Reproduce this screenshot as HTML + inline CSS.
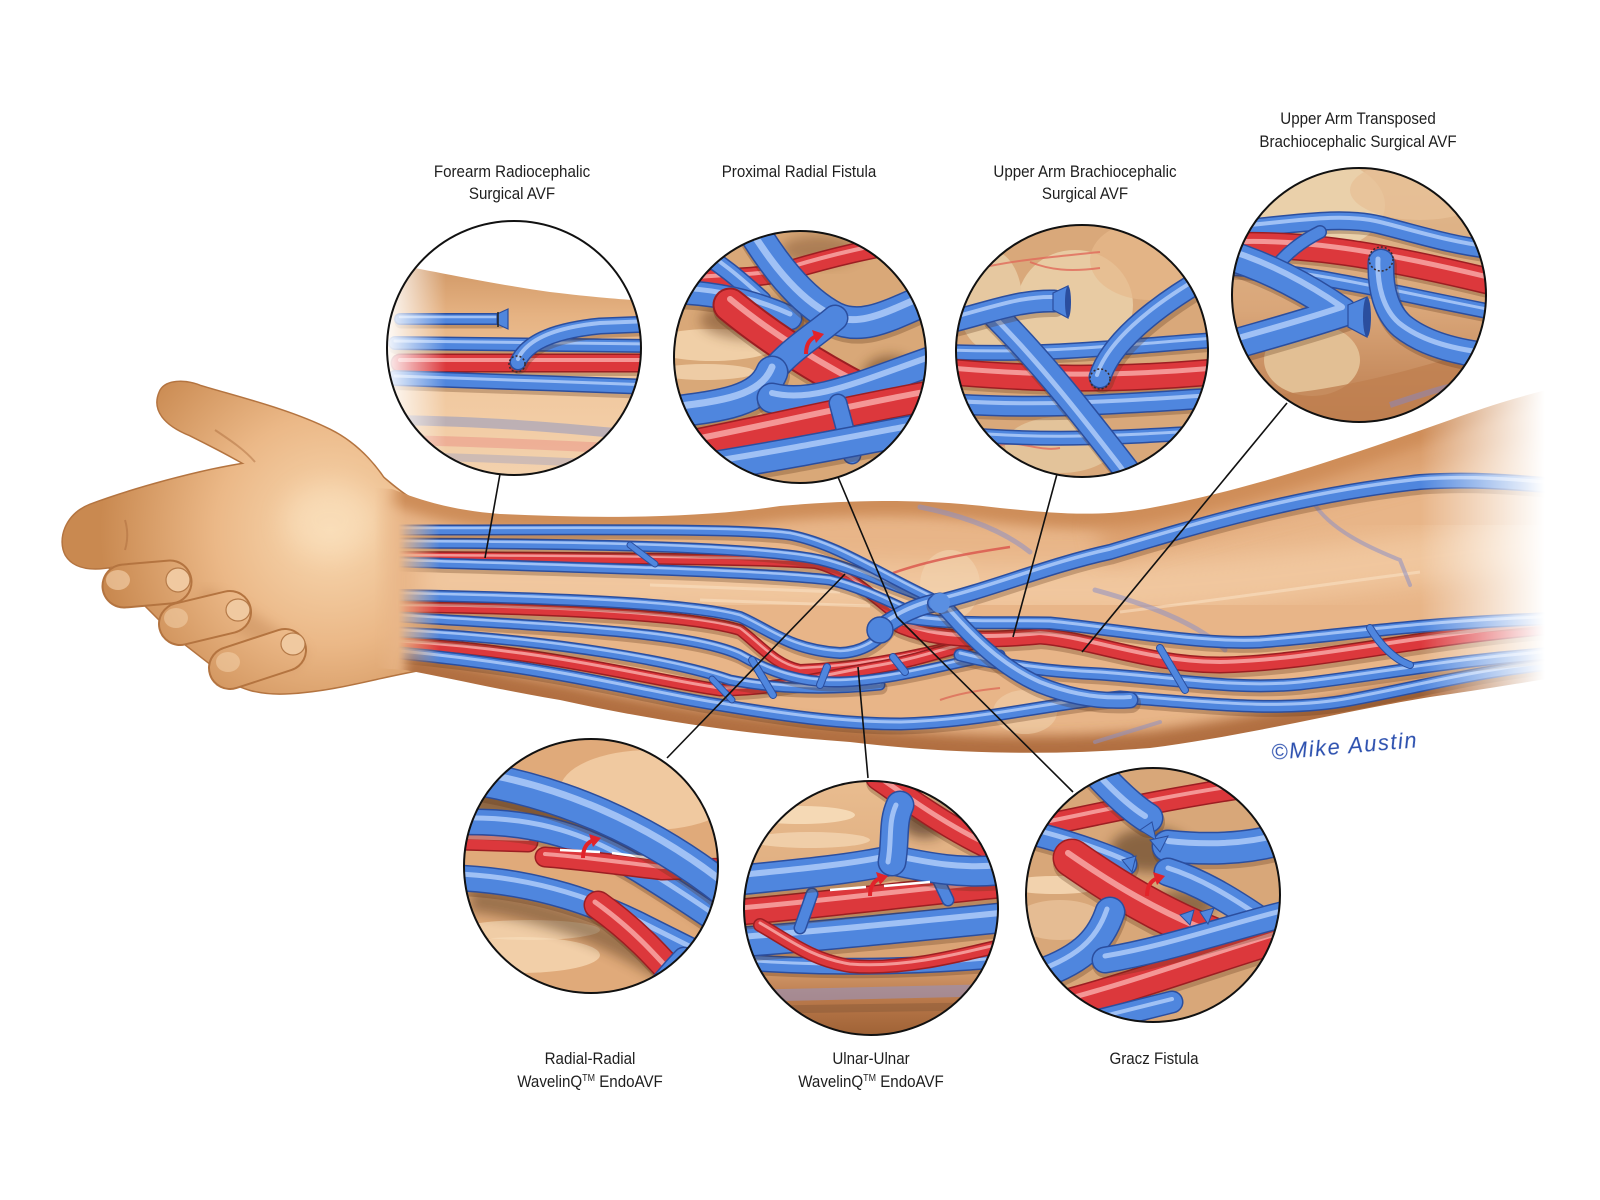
<!DOCTYPE html>
<html><head><meta charset="utf-8">
<style>
html,body{margin:0;padding:0;background:#fff;}
svg{display:block}
.s{fill:none;stroke:#5a3215;stroke-opacity:.28;stroke-linecap:round;stroke-linejoin:round}
.bo{fill:none;stroke:#2b4e9e;stroke-linecap:round;stroke-linejoin:round}
.bm{fill:none;stroke:#4f86de;stroke-linecap:round;stroke-linejoin:round}
.bh{fill:none;stroke:#a9c8f7;stroke-linecap:round;stroke-linejoin:round;stroke-opacity:.9}
.ro{fill:none;stroke:#9c1e22;stroke-linecap:round;stroke-linejoin:round}
.rm{fill:none;stroke:#dc383c;stroke-linecap:round;stroke-linejoin:round}
.rh{fill:none;stroke:#f6a2a0;stroke-linecap:round;stroke-linejoin:round;stroke-opacity:.9}
.fa{fill:none;stroke:#8c8fc4;stroke-linecap:round;stroke-opacity:.55}
.lbl{font-family:"Liberation Sans",Arial,sans-serif;font-size:17px;fill:#1e1e1e}
.ring{fill:none;stroke:#111;stroke-width:2}
.ld{fill:none;stroke:#111;stroke-width:1.6}
</style></head>
<body>
<svg width="1600" height="1200" viewBox="0 0 1600 1200" xmlns="http://www.w3.org/2000/svg">
<defs>
  <filter id="bl" x="-30%" y="-30%" width="160%" height="160%"><feGaussianBlur stdDeviation="6"/></filter>
  <filter id="bl2" x="-30%" y="-30%" width="160%" height="160%"><feGaussianBlur stdDeviation="12"/></filter>
  <radialGradient id="hg" gradientUnits="userSpaceOnUse" cx="330" cy="530" r="230">
    <stop offset="0" stop-color="#f8d9b2"/>
    <stop offset="0.5" stop-color="#ebb887"/>
    <stop offset="1" stop-color="#c98950"/>
  </radialGradient>
  <linearGradient id="armfade" gradientUnits="userSpaceOnUse" x1="375" y1="0" x2="1560" y2="0">
    <stop offset="0" stop-color="#000"/>
    <stop offset="0.0253" stop-color="#fff"/>
    <stop offset="0.8819" stop-color="#fff"/>
    <stop offset="0.9873" stop-color="#000"/>
  </linearGradient>
  <linearGradient id="vfadeg" gradientUnits="userSpaceOnUse" x1="398" y1="0" x2="1560" y2="0">
    <stop offset="0" stop-color="#000"/>
    <stop offset="0.036" stop-color="#fff"/>
    <stop offset="1" stop-color="#fff"/>
  </linearGradient>
  <mask id="armmask" maskUnits="userSpaceOnUse" x="0" y="0" width="1600" height="1200">
    <rect x="0" y="0" width="1600" height="1200" fill="url(#armfade)"/>
  </mask>
  <mask id="vmask" maskUnits="userSpaceOnUse" x="0" y="0" width="1600" height="1200">
    <rect x="0" y="0" width="1600" height="1200" fill="url(#vfadeg)"/>
  </mask>
  <clipPath id="armclip"><path d="M375,488 L392,489 C 420,500 450,510 500,514 C 600,519 700,518 780,506 C 850,500 920,498 1000,508 C 1060,514 1100,517 1150,508 C 1250,490 1350,455 1450,420 C 1500,402 1540,390 1600,378 L1600,670 C 1540,680 1480,690 1430,697 C 1350,710 1250,735 1150,748 C 1050,756 950,754 850,742 C 750,735 650,720 560,700 C 500,690 450,678 405,670 L375,668 Z"/></clipPath>
  <linearGradient id="sk1" x1="0" y1="0" x2="0" y2="1">
    <stop offset="0" stop-color="#cf9664"/><stop offset="0.25" stop-color="#e6b383"/>
    <stop offset="0.6" stop-color="#f1c9a0"/><stop offset="1" stop-color="#f3d2ae"/>
  </linearGradient>
  <linearGradient id="wf" x1="0" y1="0" x2="1" y2="0">
    <stop offset="0" stop-color="#fff" stop-opacity=".95"/><stop offset="1" stop-color="#fff" stop-opacity="0"/>
  </linearGradient>
  <linearGradient id="sk6" x1="0" y1="0" x2="0" y2="1">
    <stop offset="0" stop-color="#e9bd90"/><stop offset="0.7" stop-color="#d9a273"/>
    <stop offset="0.85" stop-color="#b8784a"/><stop offset="1" stop-color="#9c5f33"/>
  </linearGradient>
  <linearGradient id="sk4" x1="0" y1="0" x2="0" y2="1">
    <stop offset="0" stop-color="#e2bb90"/><stop offset="0.55" stop-color="#d9a679"/>
    <stop offset="1" stop-color="#b9784a"/>
  </linearGradient>
  <clipPath id="k1"><circle cx="514" cy="348" r="127"/></clipPath>
  <clipPath id="k2"><circle cx="800" cy="357" r="126"/></clipPath>
  <clipPath id="k3"><circle cx="1082" cy="351" r="126"/></clipPath>
  <clipPath id="k4"><circle cx="1359" cy="295" r="127"/></clipPath>
  <clipPath id="k5"><circle cx="591" cy="866" r="127"/></clipPath>
  <clipPath id="k6"><circle cx="871" cy="908" r="127"/></clipPath>
  <clipPath id="k7"><circle cx="1153" cy="895" r="127"/></clipPath>

  <!-- arm vessels -->
  <path id="av1" d="M400,530 C 600,530 740,528 790,535 C 840,545 880,575 940,602"/>
  <path id="av2" d="M400,543 C 600,544 760,547 820,560 C 860,570 900,590 940,602"/>
  <path id="aa1" d="M400,557 C 600,558 770,559 815,563 C 850,570 880,605 920,632"/>
  <path id="aa0" d="M900,625 C 940,643 1000,640 1040,636 C 1090,640 1150,665 1220,665 C 1320,663 1420,635 1570,625"/>
  <path id="av3" d="M400,562 C 600,568 760,572 830,580 C 870,590 900,608 930,620"/>
  <path id="av4" d="M400,595 C 550,598 690,603 740,617 C 770,630 790,650 840,653 C 865,652 880,640 890,625"/>
  <path id="aa2" d="M400,607 C 550,608 690,615 740,630 C 760,645 775,665 800,670 C 850,668 900,660 960,645"/>
  <path id="av5" d="M400,617 C 560,627 690,632 740,655 C 770,672 800,683 840,682 C 900,680 960,660 1000,655"/>
  <path id="aa3" d="M400,643 C 550,652 650,680 720,690 C 780,690 830,675 880,667 C 920,660 950,648 980,642"/>
  <path id="av6" d="M400,632 C 560,640 680,663 730,680 C 780,690 830,690 880,685"/>
  <path id="av7" d="M400,653 C 560,668 650,695 720,705 C 780,715 840,724 900,724 C 980,722 1040,705 1120,697 C 1200,703 1280,713 1350,700 C 1430,685 1480,670 1570,662"/>
  <path id="amed" d="M878,630 C 898,615 920,605 940,602"/>
  <path id="ac" d="M935,603 C 990,590 1050,565 1110,552 C 1200,525 1300,495 1420,482 C 1480,478 1530,484 1570,487"/>
  <path id="ad" d="M940,602 C 965,630 995,665 1040,685 C 1070,697 1100,702 1130,700"/>
  <path id="u1" d="M905,617 C 950,625 1000,622 1050,623 C 1120,630 1200,645 1260,642 C 1350,635 1420,622 1570,618"/>
  <path id="u2" d="M960,655 C 1000,665 1050,672 1100,674 C 1180,680 1240,690 1300,684 C 1380,675 1450,660 1570,652"/>
  <path id="cn1" d="M630,545 L655,564"/>
  <path id="cn2" d="M712,679 L732,700"/>
  <path id="cn3" d="M752,660 L773,695"/>
  <path id="cn4" d="M827,667 L820,685"/>
  <path id="cn5" d="M893,657 L905,672"/>
  <path id="cn6" d="M1160,648 L1185,690"/>
  <path id="cn7" d="M1370,628 C 1380,645 1395,660 1410,665"/>

  <!-- circle 1 -->
  <path id="c1a" d="M400,319 L499,319"/>
  <path id="c1b" d="M395,343 L650,346"/>
  <path id="c1c" d="M400,363 L650,363"/>
  <path id="c1d" d="M395,378 C 500,381 560,384 650,387"/>
  <path id="c1e" d="M518,362 C 528,340 560,330 600,326 L650,324"/>
  <!-- circle 2 -->
  <path id="c2r1" d="M680,282 C 720,276 760,280 790,270 C 830,258 870,248 935,238"/>
  <path id="c2r2" d="M730,305 C 770,338 820,370 880,400"/>
  <path id="c2r3" d="M675,448 C 760,432 840,412 935,395"/>
  <path id="c2b1" d="M748,222 C 772,262 800,300 835,318 C 865,332 895,312 935,296"/>
  <path id="c2b2" d="M668,292 C 710,292 750,300 790,318"/>
  <path id="c2b3" d="M690,246 C 720,262 742,282 762,300"/>
  <path id="c2b4" d="M665,413 C 720,406 760,402 772,372"/>
  <path id="c2b5" d="M772,372 C 790,350 815,335 835,318"/>
  <path id="c2b6" d="M772,398 C 812,408 855,388 935,360"/>
  <path id="c2b7" d="M690,470 C 780,456 850,442 935,426"/>
  <path id="c2b8" d="M838,403 L852,455"/>
  <!-- circle 3 -->
  <path id="c3r" d="M950,372 C 1020,378 1100,382 1215,372"/>
  <path id="c3b1" d="M950,352 C 1050,356 1130,346 1215,340"/>
  <path id="c3b2" d="M955,404 C 1050,410 1130,403 1215,398"/>
  <path id="c3b3" d="M960,434 C 1050,442 1130,437 1215,432"/>
  <path id="c3b4" d="M995,315 C 1040,360 1080,410 1130,475"/>
  <path id="c3b5" d="M950,322 C 990,312 1020,300 1054,301"/>
  <path id="c3b7" d="M1100,377 C 1110,345 1150,310 1205,278"/>
  <!-- circle 4 -->
  <path id="c4b1" d="M1228,230 C 1290,225 1340,215 1380,225 C 1420,235 1450,245 1492,250"/>
  <path id="c4r" d="M1228,246 C 1300,242 1380,255 1492,282"/>
  <path id="c4b2" d="M1228,268 C 1300,270 1380,290 1492,312"/>
  <path id="c4b3" d="M1320,232 C 1300,242 1285,255 1275,268"/>
  <path id="c4b4" d="M1228,255 C 1270,268 1310,290 1342,312 C 1300,326 1262,336 1228,346"/>
  <path id="c4b5" d="M1381,262 C 1380,288 1386,312 1402,326 C 1422,342 1452,352 1492,356"/>
  <!-- circle 5 -->
  <path id="c5b1" d="M462,776 C 560,790 650,830 728,892"/>
  <path id="c5b2" d="M460,822 C 540,820 590,840 640,870 C 680,895 710,915 728,928"/>
  <path id="c5r1" d="M460,840 L528,842"/>
  <path id="c5r2" d="M545,857 C 585,860 625,866 662,870 L728,868"/>
  <path id="c5b3" d="M460,878 C 540,882 600,905 645,928 L705,958"/>
  <path id="c5r3" d="M598,905 C 640,935 662,962 692,995"/>
  <path id="c5b4" d="M648,1000 C 660,985 672,970 684,958"/>
  <!-- circle 6 -->
  <path id="c6r1" d="M878,778 C 910,800 950,830 1000,852"/>
  <path id="c6b1" d="M740,880 C 800,874 860,868 892,860 C 930,868 962,874 1000,870"/>
  <path id="c6b2" d="M892,862 C 896,840 892,822 900,805"/>
  <path id="c6r2" d="M740,912 C 820,905 900,895 1000,885"/>
  <path id="c6b3" d="M740,942 C 820,936 900,928 1000,918"/>
  <path id="c6r3" d="M760,925 C 790,942 812,960 850,966 C 900,970 950,958 1000,946"/>
  <path id="c6b4" d="M740,962 C 820,968 900,968 1000,960"/>
  <path id="c6c1" d="M812,894 L800,928"/>
  <path id="c6c2" d="M935,873 L948,900"/>
  <!-- circle 7 -->
  <path id="c7r1" d="M1040,826 C 1100,814 1160,800 1240,788"/>
  <path id="c7b1" d="M1095,770 C 1115,792 1132,808 1148,818"/>
  <path id="c7b2" d="M1028,832 C 1068,842 1098,852 1125,864"/>
  <path id="c7r2" d="M1072,858 C 1118,890 1160,915 1212,936"/>
  <path id="c7b3" d="M1168,846 C 1205,850 1245,850 1285,838"/>
  <path id="c7b4" d="M1168,872 C 1200,882 1230,900 1262,922"/>
  <path id="c7b5" d="M1028,978 C 1080,962 1100,942 1110,912"/>
  <path id="c7b6" d="M1105,960 C 1165,950 1222,930 1285,914"/>
  <path id="c7r3" d="M1052,1008 C 1130,988 1200,962 1285,936"/>
  <path id="c7b7" d="M1080,1025 L1172,1002"/>
</defs>

<rect x="0" y="0" width="1600" height="1200" fill="#fff"/>

<!-- ================= HAND ================= -->
<g id="hand">
  <g fill="none" stroke="#b47440" stroke-width="3">
    <path d="M160,392 C 165,380 185,380 200,386 C 240,398 290,410 330,430 C 360,445 380,470 392,492 L300,500 C 260,470 220,450 190,435 C 165,425 152,410 160,392 Z"/>
    <path d="M250,463 C 200,470 130,490 90,505 C 65,515 58,540 66,555 C 75,570 95,570 115,566 C 150,560 200,545 240,540 Z"/>
    <path d="M240,470 C 300,445 350,450 380,475 C 400,492 412,502 430,506 L430,668 C 380,676 340,690 290,693 C 260,695 235,688 225,675 L180,640 L140,600 L110,568 C 160,540 200,500 240,470 Z"/>
  </g>
  <g fill="url(#hg)">
    <path d="M250,463 C 200,470 130,490 90,505 C 65,515 58,540 66,555 C 75,570 95,570 115,566 C 150,560 200,545 240,540 Z"/>
    <path d="M240,470 C 300,445 350,450 380,475 C 400,492 412,502 430,506 L430,668 C 380,676 340,690 290,693 C 260,695 235,688 225,675 L180,640 L140,600 L110,568 C 160,540 200,500 240,470 Z"/>
    <path d="M160,392 C 165,380 185,380 200,386 C 240,398 290,410 330,430 C 360,445 380,470 392,492 L300,500 C 260,470 220,450 190,435 C 165,425 152,410 160,392 Z"/>
  </g>
  <!-- shadow on palm behind curled fingertips -->
  <path d="M200,600 C 230,610 260,630 300,660" fill="none" stroke="#b87a48" stroke-width="24" opacity=".35" filter="url(#bl)"/>
  <!-- curled fingers (knuckle at left, nail at right tip) -->
  <line x1="124" y1="586" x2="170" y2="582" stroke="#b47440" stroke-width="45" stroke-linecap="round"/>
  <line x1="124" y1="586" x2="170" y2="582" stroke="url(#hg)" stroke-width="41" stroke-linecap="round"/>
  <line x1="180" y1="624" x2="230" y2="612" stroke="#b47440" stroke-width="44" stroke-linecap="round"/>
  <line x1="180" y1="624" x2="230" y2="612" stroke="url(#hg)" stroke-width="40" stroke-linecap="round"/>
  <line x1="230" y1="668" x2="285" y2="650" stroke="#b47440" stroke-width="44" stroke-linecap="round"/>
  <line x1="230" y1="668" x2="285" y2="650" stroke="url(#hg)" stroke-width="40" stroke-linecap="round"/>
  <g fill="none" stroke="#a8683a" stroke-opacity=".45" stroke-width="2">
    <path d="M125,520 C 128,530 128,540 125,550"/>
    <path d="M215,430 C 230,440 245,450 255,462"/>
  </g>
  <g fill="#f0c9a0" stroke="#b57a48" stroke-width="1.2">
    <ellipse cx="178" cy="580" rx="12" ry="12"/>
    <ellipse cx="238" cy="610" rx="12" ry="11"/>
    <ellipse cx="293" cy="644" rx="12" ry="11"/>
  </g>
  <ellipse cx="118" cy="580" rx="12" ry="10" fill="#f6d6b0" opacity=".6"/>
  <ellipse cx="176" cy="618" rx="12" ry="10" fill="#f6d6b0" opacity=".5"/>
  <ellipse cx="228" cy="662" rx="12" ry="10" fill="#f6d6b0" opacity=".5"/>
  <ellipse cx="330" cy="520" rx="45" ry="35" fill="#fbe2c0" opacity=".5" filter="url(#bl2)"/>
</g>

<!-- ================= ARM ================= -->
<g mask="url(#armmask)">
  <g clip-path="url(#armclip)">
    <rect x="370" y="370" width="1235" height="400" fill="#e8b588"/>
    <path d="M420,580 C 700,585 900,590 1100,590 C 1250,585 1400,560 1560,540" fill="none" stroke="#f6d3ad" stroke-width="50" opacity=".6" filter="url(#bl2)"/>
    <path d="M392,489 C 420,500 450,510 500,514 C 600,519 700,518 780,506 C 850,500 920,498 1000,508 C 1060,514 1100,517 1150,508 C 1250,490 1350,455 1450,420 C 1500,402 1540,390 1600,378" fill="none" stroke="#c7834e" stroke-width="30" opacity=".8" filter="url(#bl)"/>
    <path d="M1100,540 C 1200,510 1320,478 1450,445 C 1500,432 1540,425 1600,415" fill="none" stroke="#d08d58" stroke-width="40" opacity=".55" filter="url(#bl2)"/>
    <path d="M405,670 C 450,678 500,690 560,700 C 650,720 750,735 850,742 C 950,754 1050,756 1150,748 C 1250,735 1350,710 1430,697 C 1480,690 1540,680 1600,670" fill="none" stroke="#a86434" stroke-width="34" opacity=".85" filter="url(#bl)"/>
    <g fill="none" stroke="#fbe5c9" stroke-width="3" opacity=".5">
      <path d="M650,585 C 720,588 780,590 840,592"/>
      <path d="M700,600 C 760,602 820,604 870,606"/>
      <path d="M1120,612 C 1220,600 1320,585 1420,572"/>
    </g>
    <ellipse cx="950" cy="585" rx="30" ry="35" fill="#f2d6b2" opacity=".55"/>
    <ellipse cx="1025" cy="712" rx="32" ry="22" fill="#f2d6b2" opacity=".5"/>

    <g mask="url(#vmask)">
      <path d="M920,507 C 960,515 1000,528 1030,552" class="fa" stroke-width="5"/>
      <path d="M1313,502 C 1330,530 1370,548 1400,560 L1410,585" class="fa" stroke-width="4"/>
      <path d="M1095,590 C 1150,605 1200,625 1225,650" class="fa" stroke-width="5"/>
      <path d="M1095,742 L1160,722" class="fa" stroke-width="4"/>
      <path d="M893,573 C 930,560 970,553 1010,547" fill="none" stroke="#d9534a" stroke-width="2.5" opacity=".8"/>
      <path d="M940,700 C 960,693 980,690 1000,688" fill="none" stroke="#d9534a" stroke-width="2" opacity=".6"/>

      <use href="#aa1" class="s" stroke-width="14" transform="translate(1,3)"/>
      <use href="#aa1" class="ro" stroke-width="12"/><use href="#aa1" class="rm" stroke-width="9"/><use href="#aa1" class="rh" stroke-width="2.5" transform="translate(0,-2)"/>
      <use href="#aa2" class="s" stroke-width="14" transform="translate(1,3)"/>
      <use href="#aa2" class="ro" stroke-width="12"/><use href="#aa2" class="rm" stroke-width="9"/><use href="#aa2" class="rh" stroke-width="2.5" transform="translate(0,-2)"/>
      <use href="#aa3" class="s" stroke-width="15" transform="translate(1,3)"/>
      <use href="#aa3" class="ro" stroke-width="13"/><use href="#aa3" class="rm" stroke-width="10"/><use href="#aa3" class="rh" stroke-width="3" transform="translate(0,-2)"/>
      <use href="#aa0" class="s" stroke-width="20" transform="translate(1,3)"/>
      <use href="#aa0" class="ro" stroke-width="17"/><use href="#aa0" class="rm" stroke-width="14"/><use href="#aa0" class="rh" stroke-width="4" transform="translate(0,-3)"/>

      <use href="#av7" class="s" stroke-width="15" transform="translate(1,3)"/>
      <use href="#av7" class="bo" stroke-width="13"/><use href="#av7" class="bm" stroke-width="10"/><use href="#av7" class="bh" stroke-width="3" transform="translate(0,-2)"/>
      <use href="#av6" class="s" stroke-width="13" transform="translate(1,3)"/>
      <use href="#av6" class="bo" stroke-width="11"/><use href="#av6" class="bm" stroke-width="8"/><use href="#av6" class="bh" stroke-width="2.5" transform="translate(0,-2)"/>
      <use href="#av5" class="s" stroke-width="13" transform="translate(1,3)"/>
      <use href="#av5" class="bo" stroke-width="11"/><use href="#av5" class="bm" stroke-width="8"/><use href="#av5" class="bh" stroke-width="2.5" transform="translate(0,-2)"/>
      <use href="#av4" class="s" stroke-width="14" transform="translate(1,3)"/>
      <use href="#av4" class="bo" stroke-width="12"/><use href="#av4" class="bm" stroke-width="9"/><use href="#av4" class="bh" stroke-width="2.5" transform="translate(0,-2)"/>
      <use href="#av3" class="s" stroke-width="13" transform="translate(1,3)"/>
      <use href="#av3" class="bo" stroke-width="11"/><use href="#av3" class="bm" stroke-width="8"/><use href="#av3" class="bh" stroke-width="2.5" transform="translate(0,-2)"/>
      <use href="#av2" class="s" stroke-width="13" transform="translate(1,3)"/>
      <use href="#av2" class="bo" stroke-width="11"/><use href="#av2" class="bm" stroke-width="8"/><use href="#av2" class="bh" stroke-width="2.5" transform="translate(0,-2)"/>
      <use href="#av1" class="s" stroke-width="13" transform="translate(1,3)"/>
      <use href="#av1" class="bo" stroke-width="11"/><use href="#av1" class="bm" stroke-width="8"/><use href="#av1" class="bh" stroke-width="2.5" transform="translate(0,-2)"/>
      <use href="#u2" class="s" stroke-width="15" transform="translate(1,3)"/>
      <use href="#u2" class="bo" stroke-width="13"/><use href="#u2" class="bm" stroke-width="10"/><use href="#u2" class="bh" stroke-width="3" transform="translate(0,-2)"/>
      <use href="#u1" class="s" stroke-width="15" transform="translate(1,3)"/>
      <use href="#u1" class="bo" stroke-width="13"/><use href="#u1" class="bm" stroke-width="10"/><use href="#u1" class="bh" stroke-width="3" transform="translate(0,-2)"/>
      <g>
        <use href="#cn1" class="bo" stroke-width="7"/><use href="#cn1" class="bm" stroke-width="5"/>
        <use href="#cn2" class="bo" stroke-width="7"/><use href="#cn2" class="bm" stroke-width="5"/>
        <use href="#cn3" class="bo" stroke-width="8"/><use href="#cn3" class="bm" stroke-width="6"/>
        <use href="#cn4" class="bo" stroke-width="8"/><use href="#cn4" class="bm" stroke-width="6"/>
        <use href="#cn5" class="bo" stroke-width="8"/><use href="#cn5" class="bm" stroke-width="6"/>
        <use href="#cn6" class="bo" stroke-width="8"/><use href="#cn6" class="bm" stroke-width="6"/>
        <use href="#cn7" class="bo" stroke-width="8"/><use href="#cn7" class="bm" stroke-width="6"/>
      </g>
      <use href="#ad" class="s" stroke-width="20" transform="translate(1,3)"/>
      <use href="#ad" class="bo" stroke-width="17"/><use href="#ad" class="bm" stroke-width="14"/><use href="#ad" class="bh" stroke-width="4" transform="translate(0,-3)"/>
      <use href="#amed" class="bo" stroke-width="19"/><use href="#amed" class="bm" stroke-width="16"/><use href="#amed" class="bh" stroke-width="4" transform="translate(0,-3)"/>
      <circle cx="880" cy="630" r="13" fill="#4f86de" stroke="#2b4e9e" stroke-width="1.5"/>
      <use href="#ac" class="s" stroke-width="19" transform="translate(1,3)"/>
      <use href="#ac" class="bo" stroke-width="16"/><use href="#ac" class="bm" stroke-width="13"/><use href="#ac" class="bh" stroke-width="3.5" transform="translate(0,-3)"/>
      <circle cx="940" cy="603" r="10" fill="#5a8fe2"/>
    </g>
  </g>
</g>

<!-- ================= CIRCLE 1 ================= -->
<g clip-path="url(#k1)">
  <rect x="380" y="215" width="270" height="270" fill="#fff"/>
  <path d="M380,262 C 420,268 480,282 550,292 C 600,298 630,300 650,301 L650,480 L380,480 Z" fill="url(#sk1)"/>
  <path d="M395,420 C 500,422 560,428 615,433" fill="none" stroke="#7c8fc7" stroke-width="10" opacity=".45"/>
  <path d="M395,440 C 500,442 560,446 615,448" fill="none" stroke="#e88a80" stroke-width="10" opacity=".45"/>
  <path d="M395,456 C 500,458 560,462 615,464" fill="none" stroke="#8c95c5" stroke-width="8" opacity=".35"/>
  <use href="#c1b" class="s" stroke-width="16" transform="translate(1,3)"/>
  <use href="#c1b" class="bo" stroke-width="14"/><use href="#c1b" class="bm" stroke-width="11"/><use href="#c1b" class="bh" stroke-width="3" transform="translate(0,-2)"/>
  <use href="#c1c" class="s" stroke-width="20" transform="translate(1,3)"/>
  <use href="#c1c" class="ro" stroke-width="19"/><use href="#c1c" class="rm" stroke-width="16"/><use href="#c1c" class="rh" stroke-width="4" transform="translate(0,-3)"/>
  <use href="#c1d" class="s" stroke-width="18" transform="translate(1,3)"/>
  <use href="#c1d" class="bo" stroke-width="16"/><use href="#c1d" class="bm" stroke-width="13"/><use href="#c1d" class="bh" stroke-width="3" transform="translate(0,-2)"/>
  <use href="#c1e" class="s" stroke-width="18" transform="translate(1,3)"/>
  <use href="#c1e" class="bo" stroke-width="17"/><use href="#c1e" class="bm" stroke-width="14"/><use href="#c1e" class="bh" stroke-width="4" transform="translate(0,-3)"/>
  <circle cx="517" cy="364" r="8" fill="none" stroke="#3a2a2a" stroke-width="1.5" stroke-dasharray="2 2"/>
  <use href="#c1a" class="s" stroke-width="13" transform="translate(1,3)"/>
  <use href="#c1a" class="bo" stroke-width="12"/><use href="#c1a" class="bm" stroke-width="9"/><use href="#c1a" class="bh" stroke-width="2.5" transform="translate(0,-2)"/>
  <polygon points="497,314 508,309 508,329 497,324" fill="#4f86de" stroke="#2b4e9e" stroke-width="1.2"/>
  <line x1="498" y1="312" x2="498" y2="327" stroke="#222" stroke-width="1.5"/>
  <rect x="386" y="220" width="60" height="260" fill="url(#wf)"/>
</g>
<circle class="ring" cx="514" cy="348" r="127"/>

<!-- ================= CIRCLE 2 ================= -->
<g clip-path="url(#k2)">
  <rect x="670" y="225" width="260" height="265" fill="#d9a878"/>
  <ellipse cx="712" cy="345" rx="65" ry="16" fill="#f0cfa7"/>
  <ellipse cx="705" cy="372" rx="50" ry="8" fill="#f6dbb8" opacity=".7"/>
  <ellipse cx="760" cy="320" rx="60" ry="20" fill="#6b4020" opacity=".5" filter="url(#bl)"/>
  <ellipse cx="890" cy="378" rx="28" ry="22" fill="#5a3518" opacity=".55" filter="url(#bl)"/>
  <ellipse cx="820" cy="250" rx="40" ry="15" fill="#6b4020" opacity=".4" filter="url(#bl)"/>
  <use href="#c2r1" class="ro" stroke-width="20"/><use href="#c2r1" class="rm" stroke-width="17"/><use href="#c2r1" class="rh" stroke-width="4" transform="translate(0,-3)"/>
  <use href="#c2b3" class="bo" stroke-width="19"/><use href="#c2b3" class="bm" stroke-width="16"/><use href="#c2b3" class="bh" stroke-width="4" transform="translate(0,-3)"/>
  <use href="#c2b2" class="s" stroke-width="26" transform="translate(1,4)"/>
  <use href="#c2b2" class="bo" stroke-width="25"/><use href="#c2b2" class="bm" stroke-width="22"/><use href="#c2b2" class="bh" stroke-width="5" transform="translate(0,-4)"/>
  <use href="#c2r2" class="s" stroke-width="36" transform="translate(1,4)"/>
  <use href="#c2r2" class="ro" stroke-width="35"/><use href="#c2r2" class="rm" stroke-width="31"/><use href="#c2r2" class="rh" stroke-width="6" transform="translate(0,-6)"/>
  <use href="#c2b1" class="s" stroke-width="34" transform="translate(1,4)"/>
  <use href="#c2b1" class="bo" stroke-width="33"/><use href="#c2b1" class="bm" stroke-width="30"/><use href="#c2b1" class="bh" stroke-width="7" transform="translate(-4,-3)"/>
  <use href="#c2b5" class="bo" stroke-width="27"/><use href="#c2b5" class="bm" stroke-width="24"/>
  <use href="#c2b4" class="s" stroke-width="34" transform="translate(1,4)"/>
  <use href="#c2b4" class="bo" stroke-width="33"/><use href="#c2b4" class="bm" stroke-width="30"/><use href="#c2b4" class="bh" stroke-width="7" transform="translate(0,-5)"/>
  <use href="#c2b6" class="s" stroke-width="32" transform="translate(1,4)"/>
  <use href="#c2b6" class="bo" stroke-width="31"/><use href="#c2b6" class="bm" stroke-width="28"/><use href="#c2b6" class="bh" stroke-width="6" transform="translate(0,-5)"/>
  <use href="#c2r3" class="s" stroke-width="32" transform="translate(1,4)"/>
  <use href="#c2r3" class="ro" stroke-width="31"/><use href="#c2r3" class="rm" stroke-width="28"/><use href="#c2r3" class="rh" stroke-width="6" transform="translate(0,-5)"/>
  <use href="#c2b8" class="bo" stroke-width="19"/><use href="#c2b8" class="bm" stroke-width="16"/>
  <use href="#c2b7" class="s" stroke-width="32" transform="translate(1,4)"/>
  <use href="#c2b7" class="bo" stroke-width="31"/><use href="#c2b7" class="bm" stroke-width="28"/><use href="#c2b7" class="bh" stroke-width="6" transform="translate(0,-5)"/>
  <g transform="translate(811,338)">
    <path d="M-5,16 C -5,5 0,0 6,-2" fill="none" stroke="#e2232a" stroke-width="4"/>
    <polygon points="1,-8 13,-4 5,5" fill="#e2232a"/>
  </g>
</g>
<circle class="ring" cx="800" cy="357" r="126"/>

<!-- ================= CIRCLE 3 ================= -->
<g clip-path="url(#k3)">
  <rect x="950" y="220" width="265" height="265" fill="#d9a87a"/>
  <ellipse cx="1075" cy="305" rx="58" ry="55" fill="#e8cba3"/>
  <ellipse cx="990" cy="300" rx="32" ry="50" fill="#e6c8a0"/>
  <ellipse cx="1060" cy="445" rx="55" ry="28" fill="#e3c39a"/>
  <ellipse cx="1150" cy="260" rx="60" ry="40" fill="#e7b98b" opacity=".7"/>
  <g fill="none" stroke="#e06a5a" stroke-width="2" opacity=".8">
    <path d="M965,272 C 1000,262 1040,258 1100,252"/>
    <path d="M1030,262 C 1050,270 1070,272 1100,268"/>
    <path d="M1000,445 C 1020,440 1040,452 1060,448"/>
  </g>
  <use href="#c3b1" class="s" stroke-width="17" transform="translate(1,3)"/>
  <use href="#c3b1" class="bo" stroke-width="16"/><use href="#c3b1" class="bm" stroke-width="13"/><use href="#c3b1" class="bh" stroke-width="3" transform="translate(0,-2)"/>
  <use href="#c3r" class="s" stroke-width="28" transform="translate(1,3)"/>
  <use href="#c3r" class="ro" stroke-width="27"/><use href="#c3r" class="rm" stroke-width="24"/><use href="#c3r" class="rh" stroke-width="5" transform="translate(0,-4)"/>
  <use href="#c3b2" class="s" stroke-width="22" transform="translate(1,3)"/>
  <use href="#c3b2" class="bo" stroke-width="21"/><use href="#c3b2" class="bm" stroke-width="18"/><use href="#c3b2" class="bh" stroke-width="4" transform="translate(0,-3)"/>
  <use href="#c3b3" class="bo" stroke-width="15"/><use href="#c3b3" class="bm" stroke-width="12"/><use href="#c3b3" class="bh" stroke-width="3" transform="translate(0,-2)"/>
  <use href="#c3b4" class="s" stroke-width="28" transform="translate(2,4)"/>
  <use href="#c3b4" class="bo" stroke-width="27"/><use href="#c3b4" class="bm" stroke-width="24"/><use href="#c3b4" class="bh" stroke-width="5" transform="translate(-4,-1)"/>
  <use href="#c3b5" class="s" stroke-width="24" transform="translate(1,4)"/>
  <use href="#c3b5" class="bo" stroke-width="23"/><use href="#c3b5" class="bm" stroke-width="20"/><use href="#c3b5" class="bh" stroke-width="4" transform="translate(0,-4)"/>
  <polygon points="1053,293 1068,286 1068,318 1053,310" fill="#4f86de" stroke="#2b4e9e" stroke-width="1.2"/>
  <ellipse cx="1068" cy="302" rx="3" ry="16" fill="#2b4e9e"/>
  <use href="#c3b7" class="s" stroke-width="24" transform="translate(2,4)"/>
  <use href="#c3b7" class="bo" stroke-width="23"/><use href="#c3b7" class="bm" stroke-width="20"/><use href="#c3b7" class="bh" stroke-width="4" transform="translate(-3,-2)"/>
  <circle cx="1100" cy="379" r="10" fill="none" stroke="#3a2a2a" stroke-width="1.5" stroke-dasharray="2 2"/>
</g>
<circle class="ring" cx="1082" cy="351" r="126"/>

<!-- ================= CIRCLE 4 ================= -->
<g clip-path="url(#k4)">
  <rect x="1228" y="165" width="265" height="265" fill="url(#sk4)"/>
  <ellipse cx="1300" cy="205" rx="85" ry="50" fill="#ead0aa"/>
  <ellipse cx="1420" cy="190" rx="70" ry="30" fill="#e7c097" opacity=".8"/>
  <ellipse cx="1312" cy="360" rx="48" ry="36" fill="#e2bf94"/>
  <path d="M1230,395 C 1300,400 1400,375 1492,345 L1492,430 L1230,430 Z" fill="#bf8050" opacity=".8"/>
  <path d="M1390,405 C 1420,395 1450,385 1480,380" fill="none" stroke="#8f86b0" stroke-width="6" opacity=".6"/>
  <use href="#c4b1" class="s" stroke-width="20" transform="translate(1,3)"/>
  <use href="#c4b1" class="bo" stroke-width="19"/><use href="#c4b1" class="bm" stroke-width="16"/><use href="#c4b1" class="bh" stroke-width="4" transform="translate(0,-3)"/>
  <use href="#c4r" class="s" stroke-width="28" transform="translate(1,3)"/>
  <use href="#c4r" class="ro" stroke-width="27"/><use href="#c4r" class="rm" stroke-width="24"/><use href="#c4r" class="rh" stroke-width="5" transform="translate(0,-4)"/>
  <use href="#c4b2" class="s" stroke-width="17" transform="translate(1,3)"/>
  <use href="#c4b2" class="bo" stroke-width="16"/><use href="#c4b2" class="bm" stroke-width="13"/><use href="#c4b2" class="bh" stroke-width="3" transform="translate(0,-2)"/>
  <use href="#c4b3" class="bo" stroke-width="14"/><use href="#c4b3" class="bm" stroke-width="11"/>
  <use href="#c4b4" class="s" stroke-width="32" transform="translate(2,4)"/>
  <use href="#c4b4" class="bo" stroke-width="31"/><use href="#c4b4" class="bm" stroke-width="28"/><use href="#c4b4" class="bh" stroke-width="6" transform="translate(0,-5)"/>
  <polygon points="1348,305 1367,297 1367,337 1348,327" fill="#4f86de" stroke="#2b4e9e" stroke-width="1.2"/>
  <ellipse cx="1367" cy="317" rx="4" ry="20" fill="#2b4e9e"/>
  <use href="#c4b5" class="s" stroke-width="28" transform="translate(2,4)"/>
  <use href="#c4b5" class="bo" stroke-width="27"/><use href="#c4b5" class="bm" stroke-width="24"/><use href="#c4b5" class="bh" stroke-width="5" transform="translate(-3,-3)"/>
  <circle cx="1381" cy="259" r="12" fill="none" stroke="#3a2a2a" stroke-width="1.5" stroke-dasharray="2 2"/>
</g>
<circle class="ring" cx="1359" cy="295" r="127"/>

<!-- ================= CIRCLE 5 ================= -->
<g clip-path="url(#k5)">
  <rect x="460" y="735" width="265" height="265" fill="#e0aa7a"/>
  <ellipse cx="650" cy="790" rx="90" ry="40" fill="#f0c9a0"/>
  <ellipse cx="520" cy="955" rx="80" ry="18" fill="#f2cfa8"/>
  <ellipse cx="530" cy="930" rx="70" ry="10" fill="#f6dcb9" opacity=".7"/>
  <path d="M470,800 C 560,815 640,850 720,915" fill="none" stroke="#4a2d15" stroke-width="30" opacity=".55" filter="url(#bl)"/>
  <path d="M470,900 C 560,910 620,940 690,985" fill="none" stroke="#4a2d15" stroke-width="24" opacity=".45" filter="url(#bl)"/>
  <use href="#c5r1" class="ro" stroke-width="21"/><use href="#c5r1" class="rm" stroke-width="18"/><use href="#c5r1" class="rh" stroke-width="4" transform="translate(0,-3)"/>
  <use href="#c5b2" class="s" stroke-width="28" transform="translate(1,4)"/>
  <use href="#c5b2" class="bo" stroke-width="27"/><use href="#c5b2" class="bm" stroke-width="24"/><use href="#c5b2" class="bh" stroke-width="5" transform="translate(0,-4)"/>
  <use href="#c5r2" class="ro" stroke-width="21"/><use href="#c5r2" class="rm" stroke-width="18"/><use href="#c5r2" class="rh" stroke-width="4" transform="translate(0,-3)"/>
  <path d="M560,850 L600,852 M612,853 L650,858" fill="none" stroke="#fff" stroke-width="2.5"/>
  <use href="#c5b3" class="s" stroke-width="28" transform="translate(1,4)"/>
  <use href="#c5b3" class="bo" stroke-width="27"/><use href="#c5b3" class="bm" stroke-width="24"/><use href="#c5b3" class="bh" stroke-width="5" transform="translate(0,-4)"/>
  <use href="#c5r3" class="s" stroke-width="30" transform="translate(2,4)"/>
  <use href="#c5r3" class="ro" stroke-width="29"/><use href="#c5r3" class="rm" stroke-width="26"/><use href="#c5r3" class="rh" stroke-width="5" transform="translate(-3,-3)"/>
  <use href="#c5b4" class="bo" stroke-width="23"/><use href="#c5b4" class="bm" stroke-width="20"/>
  <use href="#c5b1" class="s" stroke-width="36" transform="translate(1,5)"/>
  <use href="#c5b1" class="bo" stroke-width="35"/><use href="#c5b1" class="bm" stroke-width="32"/><use href="#c5b1" class="bh" stroke-width="7" transform="translate(0,-6)"/>
  <g transform="translate(588,842)">
    <path d="M-5,16 C -5,5 0,0 6,-2" fill="none" stroke="#e2232a" stroke-width="4"/>
    <polygon points="1,-8 13,-4 5,5" fill="#e2232a"/>
  </g>
</g>
<circle class="ring" cx="591" cy="866" r="127"/>

<!-- ================= CIRCLE 6 ================= -->
<g clip-path="url(#k6)">
  <rect x="740" y="778" width="262" height="262" fill="url(#sk6)"/>
  <ellipse cx="800" cy="815" rx="55" ry="9" fill="#f5d9b5"/>
  <ellipse cx="810" cy="840" rx="60" ry="8" fill="#f8e0c0" opacity=".6"/>
  <path d="M740,996 L1002,990" fill="none" stroke="#9f8fa8" stroke-width="12" opacity=".75"/>
  <path d="M740,1010 L1002,1006" fill="none" stroke="#8a5a38" stroke-width="8" opacity=".5"/>
  <ellipse cx="925" cy="820" rx="25" ry="18" fill="#3b2413" opacity=".6" filter="url(#bl)"/>
  <use href="#c6b4" class="s" stroke-width="18" transform="translate(1,3)"/>
  <use href="#c6b4" class="bo" stroke-width="17"/><use href="#c6b4" class="bm" stroke-width="14"/><use href="#c6b4" class="bh" stroke-width="3" transform="translate(0,-2)"/>
  <use href="#c6b3" class="s" stroke-width="32" transform="translate(1,4)"/>
  <use href="#c6b3" class="bo" stroke-width="31"/><use href="#c6b3" class="bm" stroke-width="28"/><use href="#c6b3" class="bh" stroke-width="6" transform="translate(0,-5)"/>
  <use href="#c6r2" class="s" stroke-width="28" transform="translate(1,4)"/>
  <use href="#c6r2" class="ro" stroke-width="27"/><use href="#c6r2" class="rm" stroke-width="24"/><use href="#c6r2" class="rh" stroke-width="5" transform="translate(0,-4)"/>
  <use href="#c6r3" class="ro" stroke-width="14"/><use href="#c6r3" class="rm" stroke-width="11"/><use href="#c6r3" class="rh" stroke-width="3" transform="translate(0,-2)"/>
  <use href="#c6c1" class="bo" stroke-width="13"/><use href="#c6c1" class="bm" stroke-width="10"/>
  <use href="#c6c2" class="bo" stroke-width="13"/><use href="#c6c2" class="bm" stroke-width="10"/>
  <use href="#c6r1" class="s" stroke-width="26" transform="translate(1,4)"/>
  <use href="#c6r1" class="ro" stroke-width="25"/><use href="#c6r1" class="rm" stroke-width="22"/><use href="#c6r1" class="rh" stroke-width="5" transform="translate(-2,-3)"/>
  <use href="#c6b1" class="s" stroke-width="32" transform="translate(1,4)"/>
  <use href="#c6b1" class="bo" stroke-width="31"/><use href="#c6b1" class="bm" stroke-width="28"/><use href="#c6b1" class="bh" stroke-width="6" transform="translate(0,-5)"/>
  <use href="#c6b2" class="bo" stroke-width="29"/><use href="#c6b2" class="bm" stroke-width="26"/><use href="#c6b2" class="bh" stroke-width="5" transform="translate(-4,0)"/>
  <path d="M830,890 L866,887 M884,886 L930,882" fill="none" stroke="#fff" stroke-width="2.5"/>
  <g transform="translate(875,880)">
    <path d="M-5,16 C -5,5 0,0 6,-2" fill="none" stroke="#e2232a" stroke-width="4"/>
    <polygon points="1,-8 13,-4 5,5" fill="#e2232a"/>
  </g>
</g>
<circle class="ring" cx="871" cy="908" r="127"/>

<!-- ================= CIRCLE 7 ================= -->
<g clip-path="url(#k7)">
  <rect x="1024" y="766" width="262" height="262" fill="#d8a779"/>
  <ellipse cx="1055" cy="885" rx="50" ry="9" fill="#f2d2ad"/>
  <ellipse cx="1060" cy="920" rx="45" ry="20" fill="#e9c29a" opacity=".8"/>
  <ellipse cx="1150" cy="850" rx="40" ry="22" fill="#4a2d15" opacity=".55" filter="url(#bl)"/>
  <ellipse cx="1185" cy="905" rx="30" ry="16" fill="#4a2d15" opacity=".5" filter="url(#bl)"/>
  <use href="#c7r1" class="ro" stroke-width="23"/><use href="#c7r1" class="rm" stroke-width="20"/><use href="#c7r1" class="rh" stroke-width="4" transform="translate(0,-3)"/>
  <use href="#c7b1" class="s" stroke-width="32" transform="translate(1,4)"/>
  <use href="#c7b1" class="bo" stroke-width="31"/><use href="#c7b1" class="bm" stroke-width="28"/><use href="#c7b1" class="bh" stroke-width="6" transform="translate(-3,-2)"/>
  <use href="#c7b2" class="s" stroke-width="26" transform="translate(1,4)"/>
  <use href="#c7b2" class="bo" stroke-width="25"/><use href="#c7b2" class="bm" stroke-width="22"/><use href="#c7b2" class="bh" stroke-width="5" transform="translate(0,-4)"/>
  <use href="#c7r2" class="s" stroke-width="40" transform="translate(1,5)"/>
  <use href="#c7r2" class="ro" stroke-width="39"/><use href="#c7r2" class="rm" stroke-width="36"/><use href="#c7r2" class="rh" stroke-width="6" transform="translate(-4,-5)"/>
  <use href="#c7b3" class="s" stroke-width="34" transform="translate(1,4)"/>
  <use href="#c7b3" class="bo" stroke-width="33"/><use href="#c7b3" class="bm" stroke-width="30"/><use href="#c7b3" class="bh" stroke-width="6" transform="translate(0,-5)"/>
  <use href="#c7b4" class="bo" stroke-width="29"/><use href="#c7b4" class="bm" stroke-width="26"/><use href="#c7b4" class="bh" stroke-width="5" transform="translate(0,-4)"/>
  <use href="#c7r3" class="s" stroke-width="32" transform="translate(1,4)"/>
  <use href="#c7r3" class="ro" stroke-width="31"/><use href="#c7r3" class="rm" stroke-width="28"/><use href="#c7r3" class="rh" stroke-width="5" transform="translate(0,-5)"/>
  <use href="#c7b5" class="s" stroke-width="32" transform="translate(1,4)"/>
  <use href="#c7b5" class="bo" stroke-width="31"/><use href="#c7b5" class="bm" stroke-width="28"/><use href="#c7b5" class="bh" stroke-width="5" transform="translate(-3,-3)"/>
  <use href="#c7b6" class="s" stroke-width="28" transform="translate(1,4)"/>
  <use href="#c7b6" class="bo" stroke-width="27"/><use href="#c7b6" class="bm" stroke-width="24"/><use href="#c7b6" class="bh" stroke-width="5" transform="translate(0,-4)"/>
  <use href="#c7b7" class="bo" stroke-width="23"/><use href="#c7b7" class="bm" stroke-width="20"/><use href="#c7b7" class="bh" stroke-width="4" transform="translate(0,-3)"/>
  <g fill="#4f86de" stroke="#2b4e9e" stroke-width="1">
    <polygon points="1140,830 1152,822 1156,840"/>
    <polygon points="1150,840 1168,836 1160,852"/>
    <polygon points="1122,860 1136,856 1132,872"/>
    <polygon points="1180,915 1194,910 1190,925"/>
    <polygon points="1200,912 1214,908 1208,924"/>
  </g>
  <g transform="translate(1152,880)">
    <path d="M-5,16 C -5,5 0,0 6,-2" fill="none" stroke="#e2232a" stroke-width="4"/>
    <polygon points="1,-8 13,-4 5,5" fill="#e2232a"/>
  </g>
</g>
<circle class="ring" cx="1153" cy="895" r="127"/>

<!-- ================= LEADER LINES ================= -->
<path class="ld" d="M500,474 L485,558"/>
<path class="ld" d="M838,477 L897,617 L1073,792"/>
<path class="ld" d="M1057,474 L1013,637"/>
<path class="ld" d="M1287,403 L1082,652"/>
<path class="ld" d="M845,574 L667,758"/>
<path class="ld" d="M858,667 L868,778"/>

<!-- ================= LABELS ================= -->
<g class="lbl" text-anchor="middle">
  <text transform="translate(512,177) scale(0.89,1)">Forearm Radiocephalic</text>
  <text transform="translate(512,199) scale(0.89,1)">Surgical AVF</text>
  <text transform="translate(799,177) scale(0.89,1)">Proximal Radial Fistula</text>
  <text transform="translate(1085,177) scale(0.89,1)">Upper Arm Brachiocephalic</text>
  <text transform="translate(1085,199) scale(0.89,1)">Surgical AVF</text>
  <text transform="translate(1358,124) scale(0.89,1)">Upper Arm Transposed</text>
  <text transform="translate(1358,147) scale(0.89,1)">Brachiocephalic Surgical AVF</text>
  <text transform="translate(590,1064) scale(0.89,1)">Radial-Radial</text>
  <text transform="translate(590,1087) scale(0.89,1)">WavelinQ<tspan font-size="10" dy="-6">TM</tspan><tspan dy="6"> EndoAVF</tspan></text>
  <text transform="translate(871,1064) scale(0.89,1)">Ulnar-Ulnar</text>
  <text transform="translate(871,1087) scale(0.89,1)">WavelinQ<tspan font-size="10" dy="-6">TM</tspan><tspan dy="6"> EndoAVF</tspan></text>
  <text transform="translate(1154,1064) scale(0.89,1)">Gracz Fistula</text>
</g>
<text transform="translate(1272,760) rotate(-5)" font-family="Liberation Sans, sans-serif" font-style="italic" font-size="22" letter-spacing="1.5" fill="#2b4fae">©Mike Austin</text>
</svg>
</body></html>
